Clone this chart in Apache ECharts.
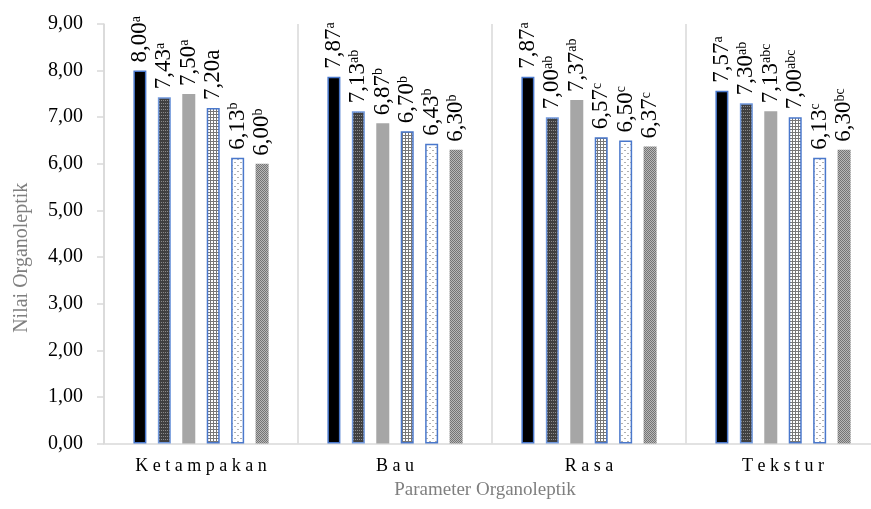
<!DOCTYPE html>
<html>
<head>
<meta charset="utf-8">
<script src="https://cdn.jsdelivr.net/npm/echarts@6/dist/echarts.min.js"></script>
<style>
html,body{margin:0;padding:0;background:#fff;}
#chart{width:871px;height:509px;}
</style>
</head>
<body>
<div id="chart"></div>
<script>
// ---- data ----
const categories = ['Ketampakan', 'Bau', 'Rasa', 'Tekstur'];
const seriesNames = ['P1', 'P2', 'P3', 'P4', 'P5', 'P6'];
const p1 = [8.00, 7.87, 7.87, 7.57];
const p2 = [7.43, 7.13, 7.00, 7.30];
const p3 = [7.50, 6.87, 7.37, 7.13];
const p4 = [7.20, 6.70, 6.57, 7.00];
const p5 = [6.13, 6.43, 6.50, 6.13];
const p6 = [6.00, 6.30, 6.37, 6.30];
const letters1 = ['a', 'a', 'a', 'a'];
const letters2 = ['a', 'ab', 'ab', 'ab'];
const letters3 = ['a', 'b', 'ab', 'abc'];
const letters4 = ['a', 'b', 'c', 'abc'];
const letters5 = ['b', 'b', 'c', 'c'];
const letters6 = ['b', 'b', 'c', 'bc'];
// letters written at full size instead of superscript: [series, category]
const inlineLetters = [[3, 0]];
const yTicks = [0, 1, 2, 3, 4, 5, 6, 7, 8, 9];

const values = [p1, p2, p3, p4, p5, p6];
const letters = [letters1, letters2, letters3, letters4, letters5, letters6];

// ---- patterns ----
function pattern(w, h, draw) {
  const c = document.createElement('canvas');
  c.width = w; c.height = h;
  const ctx = c.getContext('2d');
  draw(ctx);
  return { image: c, repeat: 'repeat' };
}
const patDark = pattern(2, 3, ctx => {
  ctx.fillStyle = '#404040'; ctx.fillRect(0, 0, 2, 3);
  ctx.fillStyle = '#8c8c8c'; ctx.fillRect(1, 1, 1, 1);
});
const patGrid = pattern(3, 3, ctx => {
  ctx.fillStyle = '#ffffff'; ctx.fillRect(0, 0, 3, 3);
  ctx.fillStyle = '#777777'; ctx.fillRect(0, 0, 3, 1); ctx.fillRect(0, 0, 1, 3);
});
const patDots = pattern(6, 6, ctx => {
  ctx.fillStyle = '#ffffff'; ctx.fillRect(0, 0, 6, 6);
  ctx.fillStyle = '#b0b0b0'; ctx.fillRect(0, 0, 2, 1); ctx.fillRect(3, 3, 2, 1);
});
const patChecker = pattern(2, 2, ctx => {
  ctx.fillStyle = '#b8b8b8'; ctx.fillRect(0, 0, 2, 2);
  ctx.fillStyle = '#747474'; ctx.fillRect(0, 0, 1, 1); ctx.fillRect(1, 1, 1, 1);
});
const blue = '#4a78cc';
const styles = [
  { color: '#000000', borderColor: blue, borderWidth: 1.5 },
  { color: patDark, borderColor: '#7199de', borderWidth: 1.5 },
  { color: '#a6a6a6', borderWidth: 0 },
  { color: patGrid, borderColor: blue, borderWidth: 1.5 },
  { color: patDots, borderColor: blue, borderWidth: 1.5 },
  { color: patChecker, borderWidth: 0 }
];

const serif = '"Liberation Serif", "Times New Roman", serif';
const fmt = v => v.toFixed(2).replace('.', ',');

const series = values.map((vals, si) => ({
  name: seriesNames[si],
  type: 'bar',
  data: vals,
  barWidth: 13,
  barGap: '88%',
  itemStyle: styles[si],
  label: {
    show: true,
    position: 'top',
    rotate: 90,
    align: 'left',
    verticalAlign: 'middle',
    distance: 8,
    formatter: p => {
      const sup = letters[si][p.dataIndex];
      const inline = inlineLetters.some(a => a[0] === si && a[1] === p.dataIndex);
      return inline ? '{v|' + fmt(p.value) + sup + '}' : '{v|' + fmt(p.value) + '}{s|' + sup + '}';
    },
    rich: {
      v: { fontFamily: serif, fontSize: 23, color: '#000', lineHeight: 22 },
      s: { fontFamily: serif, fontSize: 14, color: '#000', lineHeight: 13, verticalAlign: 'top' }
    }
  }
}));

const chart = echarts.init(document.getElementById('chart'), null, { renderer: 'canvas' });
chart.setOption({
  animation: false,
  backgroundColor: '#ffffff',
  grid: { left: 104, top: 24, width: 776, bottom: 65.5, containLabel: false, outerBoundsMode: 'none' },
  xAxis: {
    type: 'category',
    data: categories,
    name: 'Parameter Organoleptik',
    nameLocation: 'middle',
    nameGap: 36,
    nameTextStyle: { fontFamily: serif, fontSize: 19, color: '#7f7f7f', padding: [0, 14, 0, 0] },
    axisLine: { show: true, lineStyle: { color: '#d9d9d9', width: 1.5 } },
    axisTick: { show: false },
    splitLine: { show: true, interval: 0, lineStyle: { color: '#d9d9d9', width: 1.5 } },
    axisLabel: {
      interval: 0,
      margin: 14,
      fontFamily: serif,
      fontSize: 18,
      color: '#000',
      formatter: v => v.split('').join(' ')
    }
  },
  yAxis: {
    type: 'value',
    min: yTicks[0],
    max: yTicks[yTicks.length - 1],
    interval: 1,
    name: 'Nilai Organoleptik',
    nameLocation: 'middle',
    nameGap: 72,
    nameTextStyle: { fontFamily: serif, fontSize: 20, color: '#7f7f7f', padding: [0, 48, 0, 0] },
    axisLine: { show: true, lineStyle: { color: '#d9d9d9', width: 1.5 } },
    axisTick: { show: true, length: 7, lineStyle: { color: '#d9d9d9', width: 1.5 } },
    splitLine: { show: false },
    axisLabel: {
      margin: 21,
      fontFamily: serif,
      fontSize: 20,
      color: '#000',
      formatter: v => fmt(v)
    }
  },
  series: series
});
</script>
</body>
</html>
